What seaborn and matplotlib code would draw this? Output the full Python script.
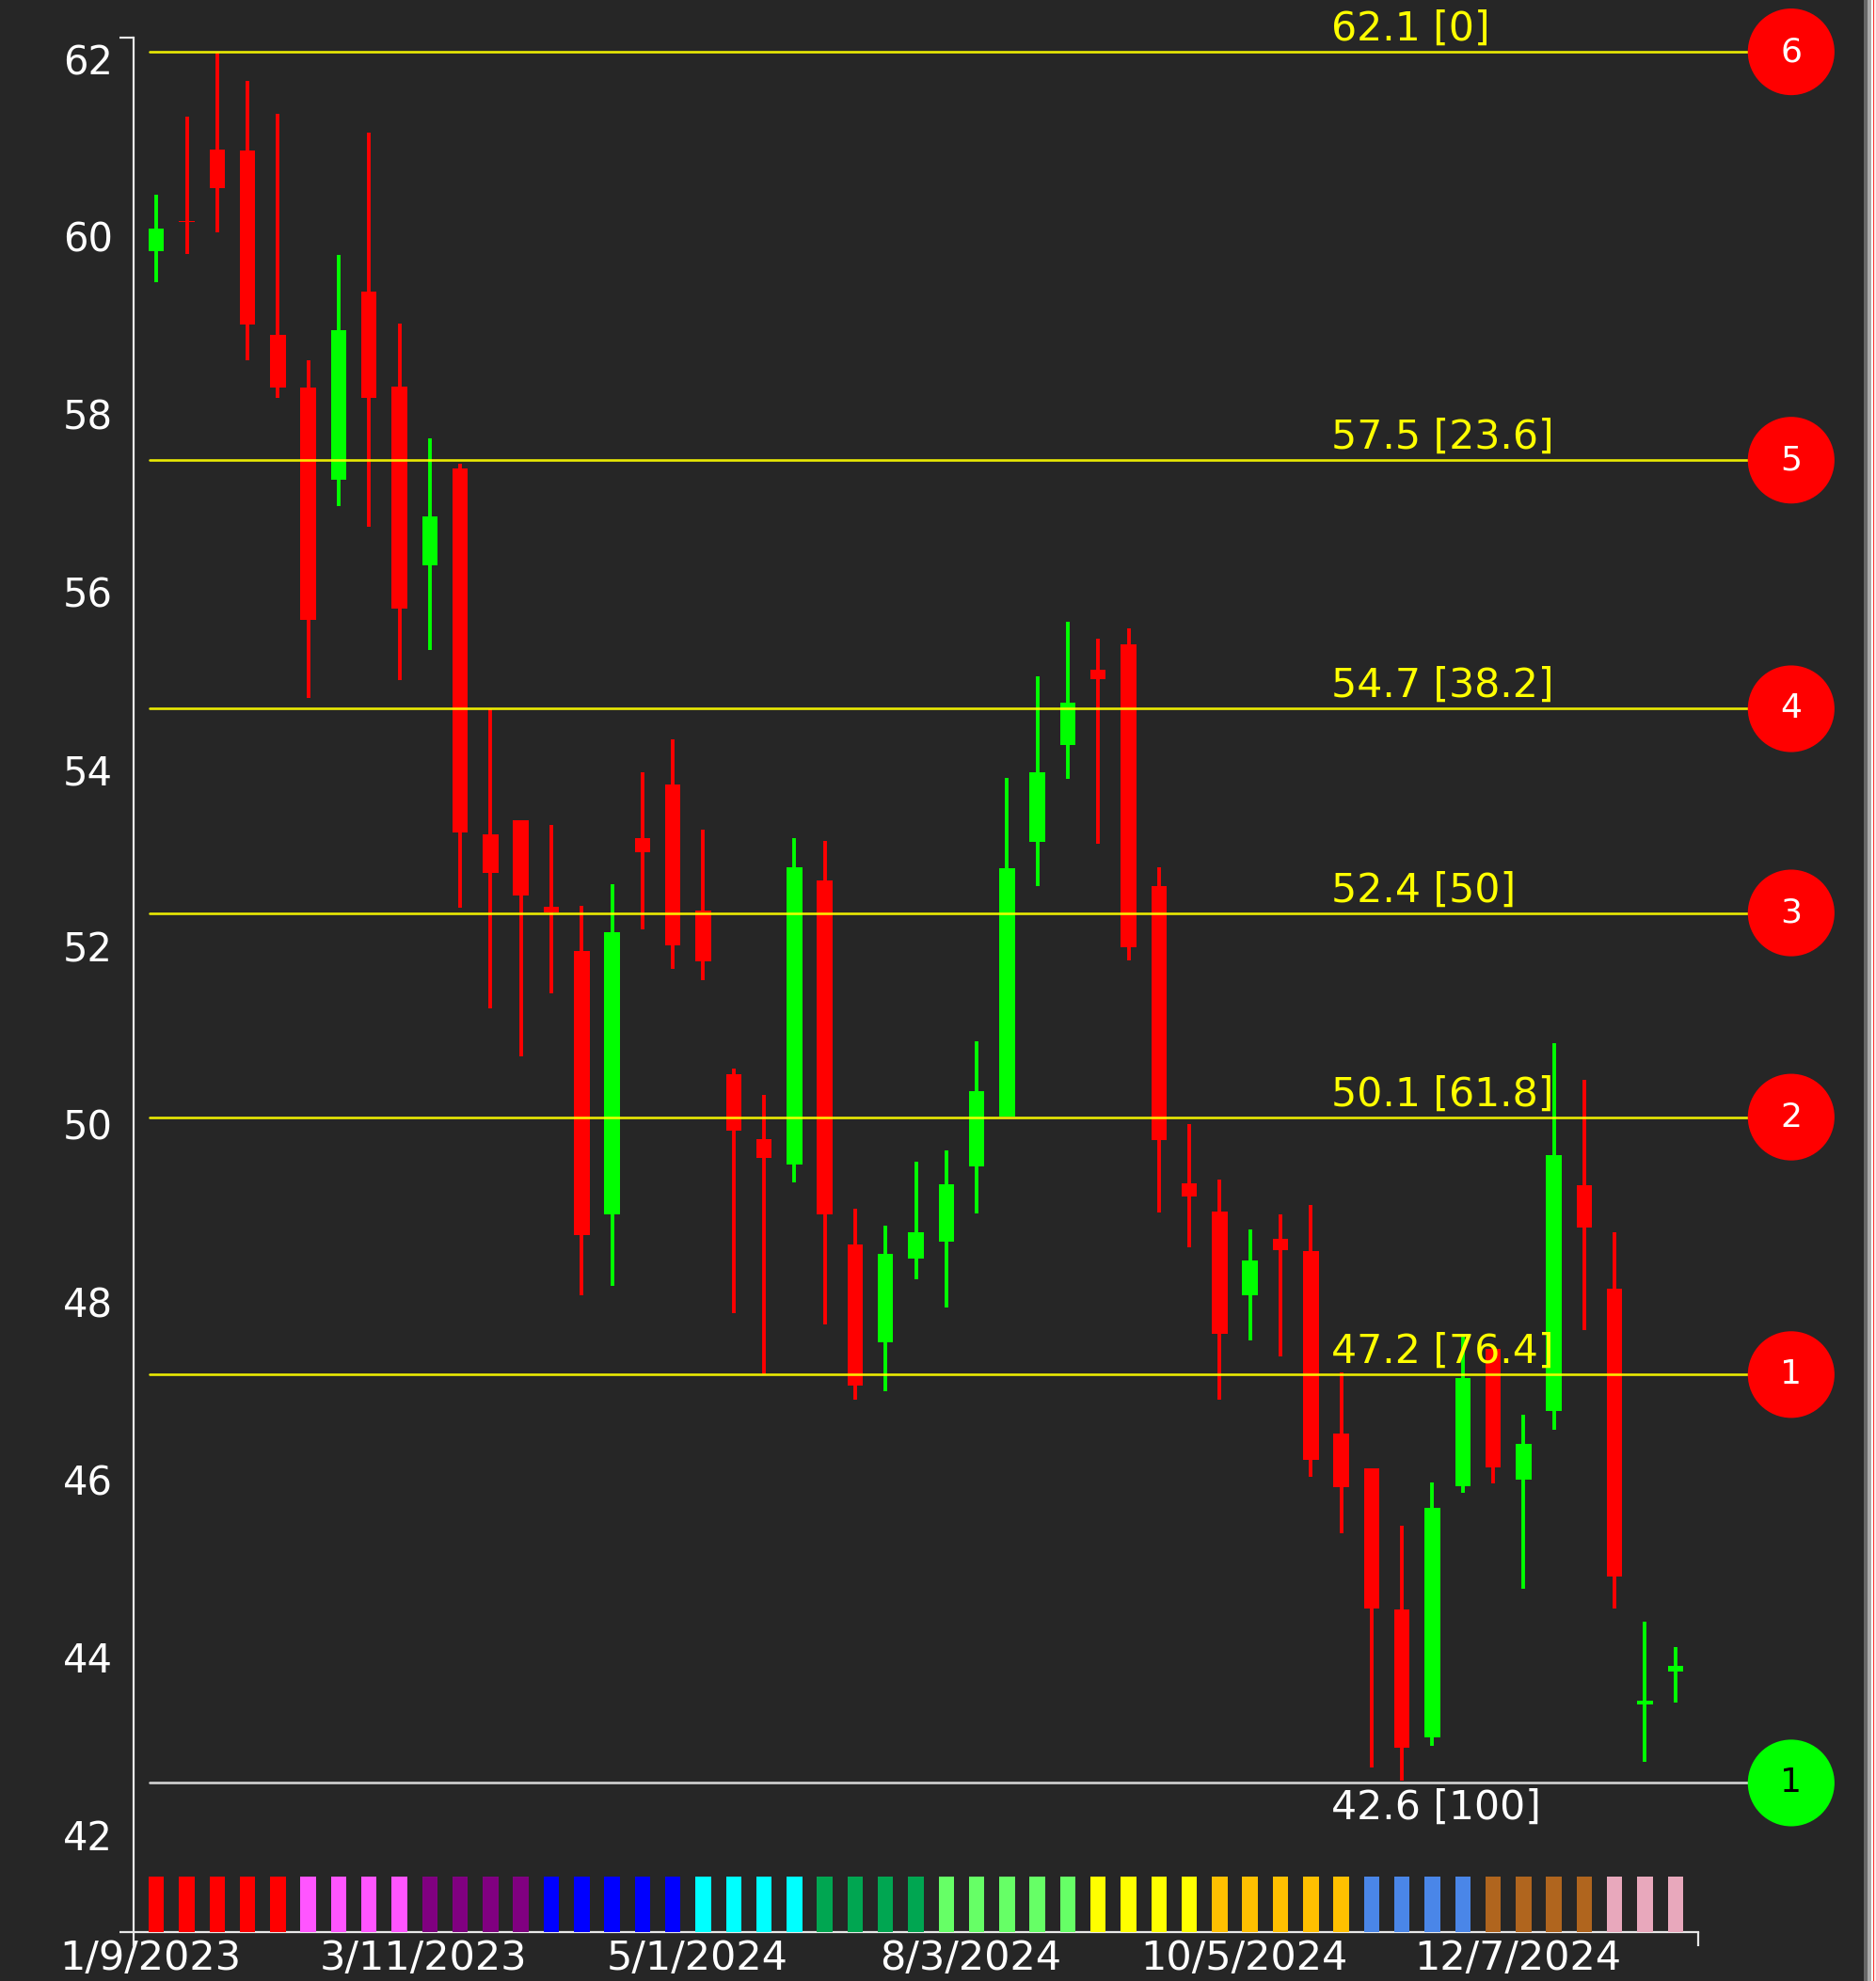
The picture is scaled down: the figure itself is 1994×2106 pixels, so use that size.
import pandas as pd
import numpy as np
import matplotlib
matplotlib.use("Agg")
import matplotlib.pyplot as plt
from matplotlib.patches import Rectangle
from matplotlib.transforms import ScaledTranslation
import seaborn as sns

# candles
highs = [60.49, 61.37, 62.09, 61.77, 61.40, 58.63, 59.81, 61.19, 59.04, 57.75, 57.46, 54.69, 53.44,
         53.39, 52.48, 52.72, 53.98, 54.36, 53.34, 50.65, 50.35, 53.24, 53.21, 49.07, 48.88, 49.60,
         49.72, 50.95, 53.92, 55.07, 55.68, 55.49, 55.61, 52.91, 50.02, 49.40, 48.83, 49.00, 49.11,
         47.22, 46.14, 45.50, 45.98, 47.66, 47.52, 46.75, 50.93, 50.52, 48.80, 44.42, 44.13]
lows = [59.50, 59.82, 60.07, 58.63, 58.20, 54.82, 56.98, 56.75, 55.02, 55.36, 52.46, 51.32, 50.79,
        51.49, 48.09, 48.20, 52.21, 51.77, 51.64, 47.89, 47.20, 49.37, 47.76, 46.92, 47.01, 48.27,
        47.96, 49.01, 50.11, 52.70, 53.91, 53.18, 51.87, 49.03, 48.63, 46.92, 47.59, 47.40, 46.05,
        45.41, 42.77, 42.63, 43.02, 45.87, 45.97, 44.79, 46.58, 47.70, 44.57, 42.84, 43.51]
body_tops = [60.11, 60.19, 61.00, 60.99, 58.91, 58.32, 58.96, 59.40, 58.33, 56.87, 57.41, 53.29, 53.44,
             52.47, 51.97, 52.18, 53.24, 53.85, 52.43, 50.58, 49.85, 52.91, 52.77, 48.67, 48.56, 48.80,
             49.34, 50.39, 52.90, 53.98, 54.77, 55.14, 55.43, 52.70, 49.35, 49.04, 48.49, 48.73, 48.59,
             46.54, 46.14, 44.55, 45.70, 47.16, 47.49, 46.42, 49.67, 49.33, 48.17, 43.53, 43.92]
body_bots = [59.85, 60.18, 60.56, 59.03, 58.32, 55.70, 57.28, 58.20, 55.83, 56.32, 53.31, 52.85, 52.60,
             52.41, 48.77, 49.00, 53.08, 52.04, 51.86, 49.95, 49.64, 49.57, 49.00, 47.08, 47.56, 48.51,
             48.70, 49.55, 50.11, 53.20, 54.29, 55.03, 52.01, 49.84, 49.21, 47.66, 48.09, 48.60, 46.24,
             45.93, 44.57, 43.00, 43.11, 45.94, 46.15, 46.02, 46.79, 48.86, 44.93, 43.48, 43.85]
rising = [1, 0, 0, 0, 0, 0, 1, 0, 0, 1, 0, 0, 0,
          0, 0, 1, 0, 0, 0, 0, 0, 1, 0, 0, 1, 1,
          1, 1, 1, 1, 1, 0, 0, 0, 0, 0, 1, 0, 0,
          0, 0, 0, 1, 1, 0, 1, 1, 0, 0, 1, 1]

# colour strip under the candles
strip_colors = ["#ff0000"] * 5 + ["#ff55ff"] * 4 + ["#800080"] * 4 + ["#0000ff"] * 5 + ["#00ffff"] * 4 \
    + ["#00a651"] * 4 + ["#66ff66"] * 5 + ["#ffff00"] * 4 + ["#ffc000"] * 5 + ["#4a86e8"] * 4 \
    + ["#b0651e"] * 4 + ["#e8a8bc"] * 3

# retracement levels
levels = [62.1, 57.5, 54.7, 52.4, 50.1, 47.2, 42.6]
level_labels = ["62.1 [0]", "57.5 [23.6]", "54.7 [38.2]", "52.4 [50]", "50.1 [61.8]", "47.2 [76.4]", "42.6 [100]"]
level_marks = ["6", "5", "4", "3", "2", "1", "1"]

y_ticks = [42, 44, 46, 48, 50, 52, 54, 56, 58, 60, 62]
date_ticks = [0, 9, 18, 27, 36, 45]
date_labels = ["1/9/2023", "3/11/2023", "5/1/2024", "8/3/2024", "10/5/2024", "12/7/2024"]

BG = "#262626"
GREEN = "#00ff00"
RED = "#ff0000"
YELLOW = "#ffff00"
AXIS = "#e8e8e8"

sns.set_theme(style="dark", rc={"axes.facecolor": BG, "figure.facecolor": BG, "axes.grid": False})
plt.rcParams["font.family"] = ["DejaVu Sans"]

df = pd.DataFrame({"pos": np.arange(len(highs)), "high": highs, "low": lows,
                   "top": body_tops, "bot": body_bots, "rising": rising, "strip": strip_colors})
df["height"] = df["top"] - df["bot"]
df["color"] = np.where(df["rising"] == 1, GREEN, RED)

fig = plt.figure(figsize=(19.94, 21.06), dpi=100, facecolor=BG)
ax = fig.add_axes([142 / 1994, 1 - 2054 / 2106, (1805 - 142) / 1994, (2054 - 40) / 2106])

y_min, y_max = 40.92, 62.26

# wicks
ax.vlines(df["pos"], df["low"], df["high"], colors=df["color"], linewidth=2.8, zorder=2)

# bodies, one call per direction so "bottom" lines up with the rows
for flag, color in [(1, GREEN), (0, RED)]:
    sub = df[df["rising"] == flag]
    sns.barplot(data=sub, x="pos", y="height", bottom=sub["bot"].values, color=color, saturation=1,
                width=0.51, native_scale=True, errorbar=None, linewidth=0, ax=ax, zorder=3)

# colour strip
sns.barplot(data=df, x="pos", y=[0.62] * len(df), bottom=y_min, hue="strip", palette=dict(zip(strip_colors, strip_colors)),
            saturation=1, width=0.51, native_scale=True, dodge=False, errorbar=None, linewidth=0,
            legend=False, ax=ax, zorder=3)

x_start, x_end, x_mark, x_text = -0.22, 53.0, 53.81, 38.66

for level, text, mark in zip(levels, level_labels, level_marks):
    low_one = level == levels[-1]
    line_color = "#e6e6e6" if low_one else YELLOW
    ax.plot([x_start, x_end], [level, level], color=line_color, linewidth=1.9, alpha=0.9, zorder=4, clip_on=False)
    ax.annotate(text, xy=(x_text, level), xytext=(0, -19 if low_one else 17.5), textcoords="offset points",
                color="#ffffff" if low_one else YELLOW, fontsize=30.7, ha="left", va="center", zorder=6,
                annotation_clip=False)

marks = pd.DataFrame({"x": [x_mark] * len(levels), "y": levels,
                      "kind": ["low" if m == levels[-1] else "high" for m in levels]})
sns.scatterplot(data=marks, x="x", y="y", hue="kind", palette={"high": RED, "low": GREEN}, s=4400,
                linewidth=0, legend=False, clip_on=False, ax=ax, zorder=5)
for level, mark in zip(levels, level_marks):
    ax.text(x_mark, level, mark, color="black" if level == levels[-1] else "white", fontsize=26,
            ha="center", va="center", zorder=6)

ax.set_xlim(-0.75, 50.75)
ax.set_ylim(y_min, y_max)
ax.set_xlabel("")
ax.set_ylabel("")

ax.set_yticks(y_ticks)
ax.set_yticklabels([str(t) for t in y_ticks])
ax.set_xticks(date_ticks)
ax.set_xticklabels(date_labels)
ax.set_yticks([y_min, y_max], minor=True)
ax.set_xticks([-0.75, 50.75], minor=True)
ax.tick_params(axis="y", which="major", length=0, labelsize=30, labelcolor="white", pad=16)
ax.tick_params(axis="x", which="major", length=0, labelsize=31, labelcolor="white", pad=5)
ax.tick_params(axis="both", which="minor", length=10.5, width=1.6, color=AXIS, left=True, bottom=True)

# labels sit a little off their ticks in the original
for lab in ax.get_xticklabels():
    lab.set_transform(lab.get_transform() + ScaledTranslation(-6.5 / 100, 0, fig.dpi_scale_trans))
for lab in ax.get_yticklabels():
    lab.set_transform(lab.get_transform() + ScaledTranslation(0, 2 / 100, fig.dpi_scale_trans))

sns.despine(ax=ax)
for side in ["left", "bottom"]:
    ax.spines[side].set_color(AXIS)
    ax.spines[side].set_linewidth(1.6)

# window edge on the right
for x0, x1, col in [(1981, 1985, "#666666"), (1985, 1989, "#aaaaaa"), (1989, 1991, "#ffffff"),
                    (1991, 1992, "#ff3030"), (1992, 1994, "#ffe8e8")]:
    fig.patches.append(Rectangle((x0 / 1994, 0), (x1 - x0) / 1994, 1, transform=fig.transFigure,
                                 facecolor=col, edgecolor="none"))

fig.savefig("out.png", dpi=100, facecolor=BG)
plt.close(fig)
